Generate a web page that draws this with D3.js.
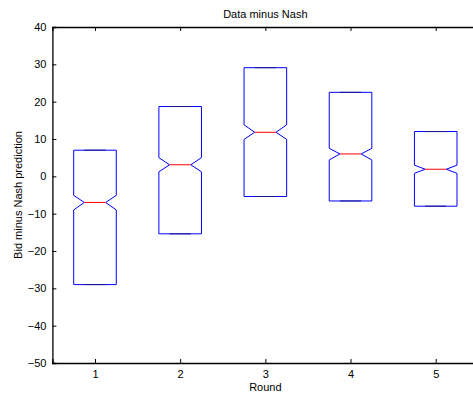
<!DOCTYPE html>
<html>
<head>
<meta charset="utf-8">
<script src="https://cdn.jsdelivr.net/npm/d3@7"></script>
<style>
  body { margin: 0; background: #ffffff; }
  svg { display: block; overflow: hidden; }
</style>
</head>
<body>
<div id="chart"></div>
<script>
const rounds = [1, 2, 3, 4, 5];
const q1 = [-29.0, -15.4, -5.4, -6.6, -8.0];
const medians = [-7.0, 3.1, 11.8, 6.0, 1.9];
const q3 = [7.0, 18.7, 29.1, 22.5, 12.0];
const notchLo = [-9.0, 1.2, 9.9, 4.4, 0.8];
const notchHi = [-5.1, 5.0, 13.8, 7.5, 3.0];
const yTicks = [-50, -40, -30, -20, -10, 0, 10, 20, 30, 40];

const width = 473;
const height = 398;
const margin = { top: 27, left: 52.4, bottom: 35 };
const plotRight = 478.3;
const font = "Liberation Sans, Arial, Helvetica, sans-serif";

const svg = d3.select("#chart")
  .append("svg")
  .attr("width", width)
  .attr("height", height)
  .style("font-family", font)
  .style("font-size", "11px");

const xScale = d3.scaleLinear().domain([0.5, 5.5]).range([margin.left, plotRight]);
const yScale = d3.scaleLinear().domain([-50, 40]).range([height - margin.bottom, margin.top]);

const data = rounds.map((r, i) => ({
  round: r, q1: q1[i], med: medians[i], q3: q3[i], lo: notchLo[i], hi: notchHi[i]
}));

const boxHalf = 0.25;
const notchHalf = 0.125;

// boxes
const boxes = svg.append("g").attr("class", "boxes");

boxes.selectAll(".box")
  .data(data)
  .enter()
  .append("path")
  .attr("class", "box")
  .attr("fill", "none")
  .attr("stroke", "#0000ff")
  .attr("stroke-width", 1)
  .attr("d", d => {
    const xl = xScale(d.round - boxHalf), xr = xScale(d.round + boxHalf);
    const nl = xScale(d.round - notchHalf), nr = xScale(d.round + notchHalf);
    return d3.line()([
      [xl, yScale(d.q1)], [xl, yScale(d.lo)], [nl, yScale(d.med)], [xl, yScale(d.hi)],
      [xl, yScale(d.q3)], [xr, yScale(d.q3)], [xr, yScale(d.hi)], [nr, yScale(d.med)],
      [xr, yScale(d.lo)], [xr, yScale(d.q1)]
    ]) + "Z";
  });

// whisker caps sit on the box edges
["q1", "q3"].forEach(k => {
  boxes.selectAll(".cap-" + k)
    .data(data)
    .enter()
    .append("line")
    .attr("class", "cap-" + k)
    .attr("x1", d => xScale(d.round - notchHalf))
    .attr("x2", d => xScale(d.round + notchHalf))
    .attr("y1", d => yScale(d[k]))
    .attr("y2", d => yScale(d[k]))
    .attr("stroke", "#1a1a8c")
    .attr("stroke-width", 1);
});

boxes.selectAll(".median")
  .data(data)
  .enter()
  .append("line")
  .attr("class", "median")
  .attr("x1", d => xScale(d.round - notchHalf))
  .attr("x2", d => xScale(d.round + notchHalf))
  .attr("y1", d => yScale(d.med))
  .attr("y2", d => yScale(d.med))
  .attr("stroke", "#ff0000")
  .attr("stroke-width", 1);

// axes (matlab style, ticks inward)
const xAxis = d3.axisBottom(xScale).tickValues(rounds).tickSize(-4).tickPadding(7).tickFormat(d3.format("d"));
const xAxisTop = d3.axisTop(xScale).tickValues(rounds).tickSize(-4).tickFormat("");
const yAxis = d3.axisLeft(yScale).tickValues(yTicks).tickSize(-4).tickPadding(6)
  .tickFormat(d => (d < 0 ? "\u2212" + Math.abs(d) : d));

const gx = svg.append("g")
  .attr("transform", `translate(0, ${yScale(-50)})`)
  .call(xAxis);
const gxt = svg.append("g")
  .attr("transform", `translate(0, ${yScale(40)})`)
  .call(xAxisTop);
const gy = svg.append("g")
  .attr("transform", `translate(${margin.left}, 0)`)
  .call(yAxis);

[gx, gxt, gy].forEach(g => {
  g.select(".domain").attr("stroke", "#000").attr("stroke-width", 1.3);
  g.selectAll(".tick line").attr("stroke", "#000");
  g.selectAll(".tick text").attr("fill", "#000").style("font-size", "11px").style("font-family", font);
});

// labels
svg.append("text")
  .attr("x", xScale(3))
  .attr("y", 18)
  .attr("text-anchor", "middle")
  .text("Data minus Nash");

svg.append("text")
  .attr("x", xScale(3))
  .attr("y", 391)
  .attr("text-anchor", "middle")
  .text("Round");

svg.append("text")
  .attr("transform", `translate(22, ${(yScale(40) + yScale(-50)) / 2}) rotate(-90)`)
  .attr("text-anchor", "middle")
  .text("Bid minus Nash prediction");
</script>
</body>
</html>
